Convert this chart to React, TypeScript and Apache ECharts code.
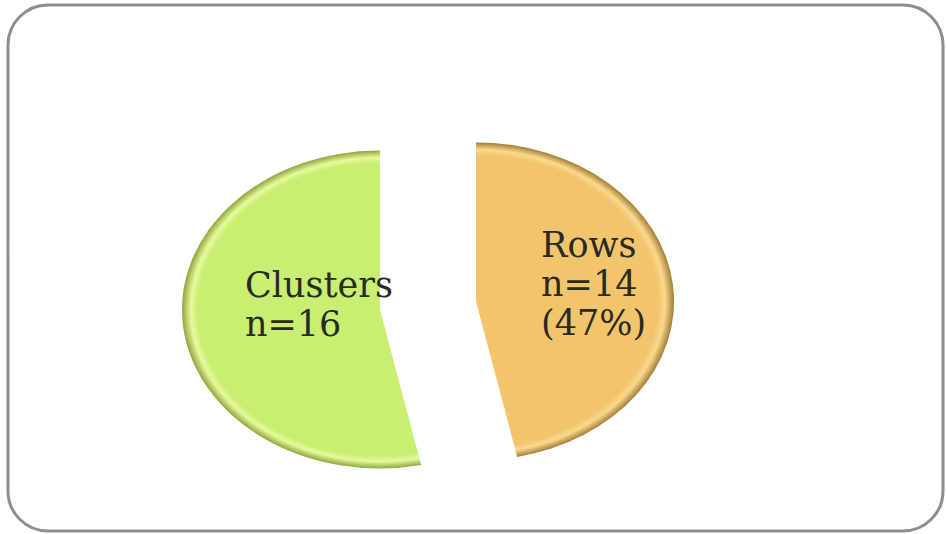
import React, { useEffect, useRef } from "react";
import * as echarts from "echarts";

const categories = ["Clusters", "Rows"];
const values = [16, 14];
const labelLines = [
  ["Clusters", "n=16"],
  ["Rows", "n=14", "(47%)"],
];

const baseColors = ["#c8ee72", "#f2c56c"];
const lightColors = ["#e6fa9c", "#f9d98f"];
const darkColors = ["#8ea63c", "#a47c32"];
const labelDx = [-135, 65];
const labelDy = [-5, -17];

export default function App() {
  const ref = useRef<HTMLDivElement>(null);
  useEffect(() => {
    const chart = echarts.init(ref.current!, null, { renderer: "svg" });
    const total = values.reduce((a, b) => a + b, 0);
    const R = 159;
    const SX = 1.245;
    const CX = 428;
    const CY = 305.5;
    const D = 38.8;

    const renderItem = (params: any, api: any) => {
      const i = params.dataIndex;
      const v = api.value(1);
      let before = 0;
      for (let j = 0; j < i; j++) before += values[j];
      const k = (Math.PI * 2) / total;
      const top = -Math.PI / 2;
      const start = top - (before + v) * k;
      const end = top - before * k;
      const bis = (start + end) / 2;
      const cx = CX + D * Math.cos(bis) * SX;
      const cy = CY + D * Math.sin(bis);
      return {
        type: "group",
        children: [
          {
            type: "group",
            x: cx,
            y: cy,
            scaleX: SX,
            scaleY: 1,
            children: [
              {
                type: "sector",
                shape: { cx: 0, cy: 0, r0: 0, r: R, startAngle: start, endAngle: end, clockwise: true },
                style: {
                  fill: {
                    type: "radial",
                    x: 0,
                    y: 0,
                    r: R,
                    global: true,
                    colorStops: [
                      { offset: 0, color: baseColors[i] },
                      { offset: 0.92, color: baseColors[i] },
                      { offset: 0.955, color: lightColors[i] },
                      { offset: 1, color: darkColors[i] },
                    ],
                  },
                },
              },
            ],
          },
          {
            type: "text",
            x: cx + labelDx[i],
            y: cy + labelDy[i],
            style: {
              text: labelLines[i].join("\n"),
              fill: "#2a2a22",
              fontSize: 35,
              fontFamily: "DejaVu Serif",
              lineHeight: 39,
              align: "left",
              verticalAlign: "middle",
            },
          },
        ],
      };
    };

    chart.setOption({
      animation: false,
      backgroundColor: "#ffffff",
      graphic: [
        {
          type: "rect",
          shape: { x: 8, y: 5, width: 935, height: 526, r: 40 },
          style: { fill: "none", stroke: "#8e8e8e", lineWidth: 3 },
          z: 0,
        },
      ],
      series: [
        {
          type: "custom",
          coordinateSystem: "none",
          renderItem,
          data: categories.map((c, i) => ({ name: c, value: [i, values[i]] })),
          z: 2,
        },
      ],
    });
    return () => chart.dispose();
  }, []);
  return (
    <div
      ref={ref}
      style={{ position: "fixed", left: 0, top: 0, width: 946, height: 534 }}
    />
  );
}
